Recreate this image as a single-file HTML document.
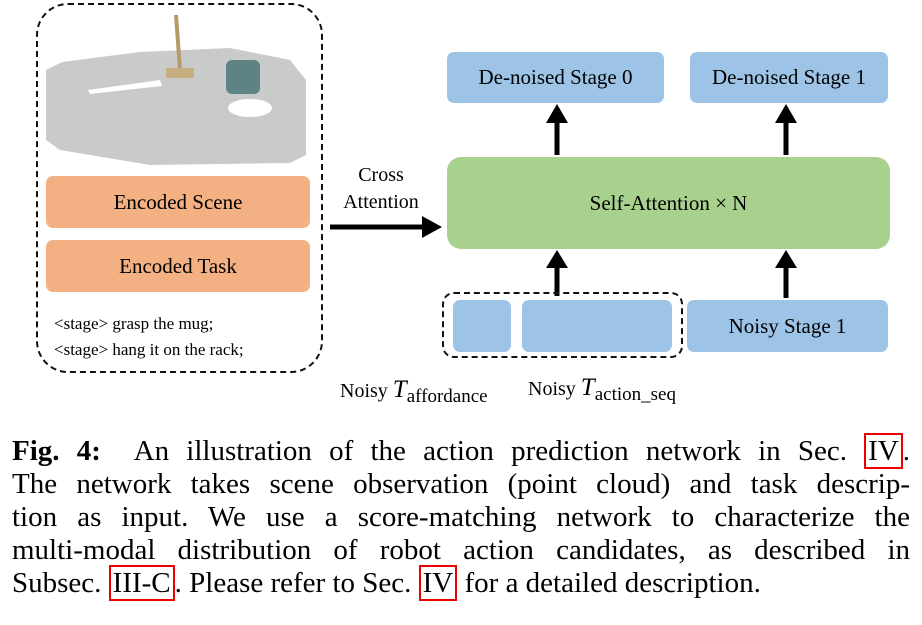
<!DOCTYPE html>
<html><head><meta charset="utf-8"><style>
body{margin:0;width:922px;height:625px;background:#fff;position:relative;overflow:hidden;font-family:"Liberation Serif",serif;color:#000}
.a{position:absolute}
.box{position:absolute;display:flex;align-items:center;justify-content:center;font-size:21px;border-radius:7px}
.o{background:#f3b083}.b{background:#9dc3e6}.g{background:#a9d18e}
.cap{position:absolute;left:12px;width:898px;font-size:29px;line-height:33px;text-align:justify;text-align-last:justify}
.r{border:2px solid #e00;padding:0 2px}
</style></head><body>
<div class="a" style="left:36px;top:3px;width:283px;height:366px;border:2.5px dashed #111;border-radius:32px"></div>
<svg class="a" style="left:0;top:0" width="922" height="420">
<polygon points="62,62 140,52 230,48 290,60 306,80 306,155 290,163 150,165 60,150 46,140 46,70" fill="#c9cbca"/>
<line x1="176" y1="15" x2="180" y2="70" stroke="#b59a6a" stroke-width="4"/>
<rect x="166" y="68" width="28" height="10" fill="#c7ad80"/>
<polygon points="88,90 160,80 162,86 90,94" fill="#fff"/>
<rect x="226" y="60" width="34" height="34" rx="6" fill="#5d8385"/>
<ellipse cx="250" cy="108" rx="22" ry="9" fill="#fff"/>
<line x1="330" y1="227" x2="425" y2="227" stroke="#000" stroke-width="5"/>
<polygon points="422,216 442,227 422,238" fill="#000"/>
<g stroke="#000" stroke-width="5"><line x1="557" y1="155" x2="557" y2="120"/><line x1="786" y1="155" x2="786" y2="120"/><line x1="557" y1="296" x2="557" y2="266"/><line x1="786" y1="298" x2="786" y2="266"/></g>
<g fill="#000"><polygon points="546,123 557,104 568,123"/><polygon points="775,123 786,104 797,123"/><polygon points="546,268 557,250 568,268"/><polygon points="775,268 786,250 797,268"/></g>
</svg>
<div class="box o" style="left:46px;top:176px;width:264px;height:52px">Encoded Scene</div>
<div class="box o" style="left:46px;top:240px;width:264px;height:52px">Encoded Task</div>
<div class="a" style="left:54px;top:311px;font-size:17px;line-height:26px">&lt;stage&gt; grasp the mug;<br>&lt;stage&gt; hang it on the rack;</div>
<div class="a" style="left:336px;top:162px;font-size:20px;line-height:27px;text-align:center;width:90px">Cross<br>Attention</div>
<div class="box g" style="left:447px;top:157px;width:443px;height:92px;border-radius:14px">Self-Attention × N</div>
<div class="box b" style="left:447px;top:52px;width:217px;height:51px">De-noised Stage 0</div>
<div class="box b" style="left:690px;top:52px;width:198px;height:51px">De-noised Stage 1</div>
<div class="a" style="left:442px;top:292px;width:237px;height:62px;border:2px dashed #111;border-radius:12px"></div>
<div class="box b" style="left:453px;top:300px;width:58px;height:52px"></div>
<div class="box b" style="left:522px;top:300px;width:150px;height:52px"></div>
<div class="box b" style="left:687px;top:300px;width:201px;height:52px">Noisy Stage 1</div>
<div class="a" style="left:340px;top:376px;font-size:20px">Noisy <i style="font-size:25px">T</i><span style="font-size:19px;position:relative;top:5px">affordance</span></div>
<div class="a" style="left:528px;top:374px;font-size:20px">Noisy <i style="font-size:25px">T</i><span style="font-size:19px;position:relative;top:5px">action_seq</span></div>
<div class="cap" style="top:435px"><b>Fig. 4:</b>&nbsp; An illustration of the action prediction network in Sec. <span class="r">IV</span>.</div>
<div class="cap" style="top:468px">The network takes scene observation (point cloud) and task descrip-</div>
<div class="cap" style="top:501px">tion as input. We use a score-matching network to characterize the</div>
<div class="cap" style="top:534px">multi-modal distribution of robot action candidates, as described in</div>
<div class="cap" style="top:567px;text-align-last:left">Subsec. <span class="r">III-C</span>. Please refer to Sec. <span class="r">IV</span> for a detailed description.</div>
</body></html>
